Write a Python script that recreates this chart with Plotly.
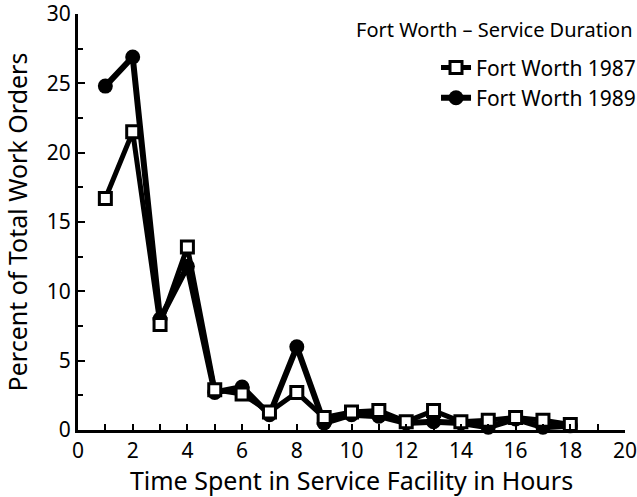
import plotly.graph_objects as go

hours = [1, 2, 3, 4, 5, 6, 7, 8, 9, 10, 11, 12, 13, 14, 15, 16, 17, 18]
fw_1987 = [16.7, 21.5, 7.6, 13.2, 2.9, 2.6, 1.3, 2.7, 0.9, 1.3, 1.4, 0.6, 1.4, 0.6, 0.7, 0.9, 0.7, 0.4]
fw_1989 = [24.8, 26.9, 8.0, 11.8, 2.7, 3.1, 1.1, 6.0, 0.5, 1.1, 1.0, 0.5, 0.6, 0.5, 0.2, 0.8, 0.2, 0.3]

FONT = "Noto Sans"

fig = go.Figure()

#1989 drawn first so the open squares sit on top
fig.add_trace(go.Scatter(
    x=hours, y=fw_1989, mode="lines+markers", name="Fort Worth 1989",
    line=dict(color="black", width=6),
    marker=dict(symbol="circle", size=15, color="black"),
    legendrank=2, cliponaxis=False
))
fig.add_trace(go.Scatter(
    x=hours, y=fw_1987, mode="lines+markers", name="Fort Worth 1987",
    line=dict(color="black", width=5),
    marker=dict(symbol="square", size=12, color="white", line=dict(color="black", width=3)),
    legendrank=1, cliponaxis=False
))

fig.update_xaxes(
    range=[0, 20], dtick=2, ticks="inside", ticklen=6, tickwidth=2, tickcolor="black",
    minor=dict(dtick=1, ticks="inside", ticklen=6, tickwidth=2, tickcolor="black"),
    showline=True, linecolor="black", linewidth=3, showgrid=False, zeroline=False,
    automargin=False, ticklabeloverflow="allow",
    title=dict(text="Time Spent in Service Facility in Hours", font=dict(size=25, family=FONT, color="black"), standoff=0),
    tickfont=dict(size=21, family=FONT, color="black")
)
fig.update_yaxes(
    range=[0, 30], dtick=5, ticks="inside", ticklen=7, tickwidth=2, tickcolor="black",
    minor=dict(dtick=2.5, ticks="inside", ticklen=5, tickwidth=2, tickcolor="black"),
    showline=True, linecolor="black", linewidth=3, showgrid=False, zeroline=False,
    automargin=False, ticklabeloverflow="allow",
    title=dict(text="Percent of Total Work Orders", font=dict(size=25, family=FONT, color="black"), standoff=20),
    tickfont=dict(size=21, family=FONT, color="black")
)

fig.add_annotation(
    text="Fort Worth – Service Duration", xref="paper", yref="paper",
    x=1.018, y=0.962, xanchor="right", yanchor="middle", showarrow=False,
    font=dict(size=20, family=FONT, color="black")
)

fig.update_layout(
    width=637, height=497,
    margin=dict(l=78, r=12, t=14, b=67, autoexpand=False),
    plot_bgcolor="white", paper_bgcolor="white",
    font=dict(family=FONT, color="black"),
    legend=dict(
        x=0.6545, xanchor="left", y=0.92, yanchor="top",
        font=dict(size=21, family=FONT), bgcolor="rgba(0,0,0,0)",
        tracegroupgap=0
    )
)

#drop the default 8px page margin so the figure fills the window
fig.write_html(
    "out.html",
    config={"displayModeBar": False},
    post_script="document.body.style.margin='0px';document.body.style.overflow='hidden';"
)
